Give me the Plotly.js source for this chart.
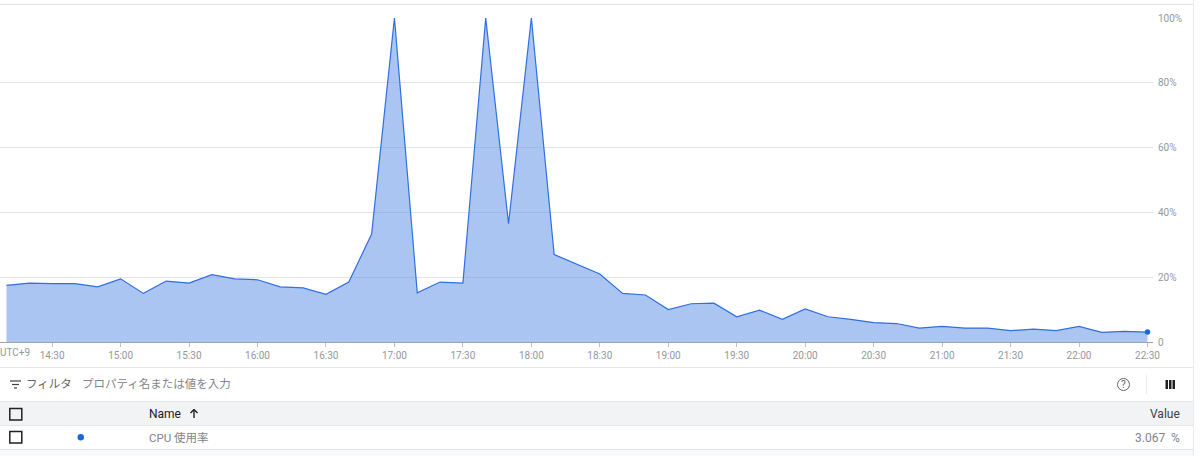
<!DOCTYPE html>
<html>
<head>
<meta charset="utf-8">
<script src="https://cdn.plot.ly/plotly-3.0.1.min.js"></script>
<style>html,body{margin:0;padding:0;background:#fff;overflow:hidden}#c{width:1200px;height:456px}</style>
</head>
<body>
<div id="c"></div>
<script>
const times = ["14:10","14:20","14:30","14:40","14:50","15:00","15:10","15:20","15:30","15:40","15:50","16:00","16:10","16:20","16:30","16:40","16:50","17:00","17:10","17:20","17:30","17:40","17:50","18:00","18:10","18:20","18:30","18:40","18:50","19:00","19:10","19:20","19:30","19:40","19:50","20:00","20:10","20:20","20:30","20:40","20:50","21:00","21:10","21:20","21:30","21:40","21:50","22:00","22:10","22:20","22:30"];
const cpu = [17.5,18.2,18.0,18.0,17.0,19.5,15.0,18.8,18.2,20.8,19.5,19.2,17.0,16.7,14.7,18.5,33.3,100,15.2,18.5,18.2,100,36.5,100,27,24,21,15,14.5,10,11.8,12,7.8,9.8,7,10.2,7.8,7,6,5.7,4.3,4.8,4.3,4.3,3.5,4,3.5,4.8,3,3.3,3.067];
const xTickTimes = ["14:30","15:00","15:30","16:00","16:30","17:00","17:30","18:00","18:30","19:00","19:30","20:00","20:30","21:00","21:30","22:00","22:30"];
const yTickVals = [0,20,40,60,80,100];
const yTickText = ["0","20%","40%","60%","80%","100%"];
const day = "2024-01-01 ";
const FONT = "Roboto, 'Noto Sans CJK JP', sans-serif";
const BLUE = "#1a66e0";
const TICKTEXT = "#94989e";

const traces = [
  {x: times.map(t => day + t), y: cpu, type: "scatter", mode: "lines", fill: "tozeroy",
   fillcolor: "rgba(100,148,232,0.54)", line: {color: "#2f6fe0", width: 1.2}, hoverinfo: "skip"},
  {x: [day + times[times.length-1]], y: [cpu[cpu.length-1]], type: "scatter", mode: "markers",
   marker: {color: BLUE, size: 5.5}, cliponaxis: false, hoverinfo: "skip"}
];

function rc(x0,y0,x1,y1,f,c,w){return {type:"rect",xref:"paper",yref:"paper",x0:x0/1153,x1:x1/1153,y0:1-(y0-18)/324,y1:1-(y1-18)/324,fillcolor:f||"rgba(0,0,0,0)",line:{color:c||"rgba(0,0,0,0)",width:w||0},layer:"below"};}
function lnp(x0,y0,x1,y1,c,w){return {type:"line",xref:"paper",yref:"paper",x0:x0/1153,x1:x1/1153,y0:1-(y0-18)/324,y1:1-(y1-18)/324,line:{color:c,width:w||1},layer:"above"};}
function txt(s,x,y,size,color,anchor){
  const a = anchor||"left";
  const dx = a==="left" ? -2 : (a==="right" ? 2 : 0);
  return {text:s,xref:"paper",yref:"paper",x:(x+dx)/1153,y:1-(y-18)/324,xanchor:a,yanchor:"middle",showarrow:false,font:{family:FONT,size:size,color:color}};
}

const shapes = [
  rc(0,450,1193,456,"#f8f9fa"),
  rc(0,402,1193,425,"#f1f3f4"),
  lnp(0,4.5,1193,4.5,"#dfe1e5"),
  lnp(1193.5,0,1193.5,456,"#e8eaed"),
  lnp(0,367.5,1193,367.5,"#e4e6e9"),
  lnp(0,401.5,1193,401.5,"#e4e6e9"),
  lnp(0,425.5,1193,425.5,"#e4e6e9"),
  lnp(0,449.5,1193,449.5,"#dfe1e5"),
  lnp(1146.5,375,1146.5,394,"#e8eaed"),
  // filter icon
  lnp(10,381,21,381,"#3c4043",1.2), lnp(12,384.5,19,384.5,"#3c4043",1.2), lnp(14,388,17,388,"#3c4043",1.2),
  // sort arrow
  lnp(194,409.5,194,418,"#202124",1.4), lnp(190.5,413,194,409.5,"#202124",1.4), lnp(197.5,413,194,409.5,"#202124",1.4),
  // checkboxes
  Object.assign(rc(9.8,408.5,21.8,420,null,"#202124",1.5),{layer:"above"}),
  Object.assign(rc(9.8,431.5,21.8,443,null,"#202124",1.5),{layer:"above"}),
  // legend dot
  {type:"circle",xref:"paper",yref:"paper",x0:77.5/1153,x1:84/1153,y0:1-(440.5-18)/324,y1:1-(434-18)/324,fillcolor:BLUE,line:{width:0},layer:"above"},
  // help icon
  {type:"circle",xref:"paper",yref:"paper",x0:1117.5/1153,x1:1129.5/1153,y0:1-(390.5-18)/324,y1:1-(378.5-18)/324,fillcolor:"rgba(0,0,0,0)",line:{color:"#5f6368",width:1},layer:"above"},
  // column icon
  Object.assign(rc(1165.5,380,1168,389,"#202124"),{layer:"above"}),
  Object.assign(rc(1169,380,1171.5,389,"#202124"),{layer:"above"}),
  Object.assign(rc(1172.5,380,1175,389,"#202124"),{layer:"above"})
];

const annotations = [
  txt("UTC+9",0,352.5,10,TICKTEXT),
  txt("フィルタ",26,384,11.5,"#5f6368"),
  txt("プロパティ名または値を入力",82,384,11.5,"#80868b"),
  txt("?",1123.5,384.5,10,"#5f6368","center"),
  txt("Name",149,413.5,12,"#202124"),
  txt("Value",1180,413.5,12,"#3c4043","right"),
  txt("CPU 使用率",149,437.5,11.5,"#80868b"),
  txt("3.067",1165,437.5,12,"#80868b","right"),
  txt("%",1180,437.5,12,"#80868b","right")
];

const layout = {
  width: 1200, height: 456, showlegend: false,
  paper_bgcolor: "#fff", plot_bgcolor: "rgba(0,0,0,0)",
  margin: {l: 0, r: 47, t: 18, b: 114, pad: 0},
  font: {family: FONT, size: 10, color: TICKTEXT},
  xaxis: {type: "date", range: ["2024-01-01 14:07:09", "2024-01-01 22:32:25"],
    tickmode: "array", tickvals: xTickTimes.map(t => day + t), ticktext: xTickTimes,
    ticks: "outside", ticklen: 4, tickwidth: 1, tickcolor: "#bdc1c6",
    showgrid: false, showline: true, linecolor: "#a0a4aa", linewidth: 1, zeroline: false,
    tickfont: {size: 10, color: TICKTEXT}, fixedrange: true},
  yaxis: {range: [0, 100], side: "right", tickmode: "array", tickvals: yTickVals, ticktext: yTickText,
    showgrid: true, gridcolor: "#e3e4e7", gridwidth: 1, zeroline: false, showline: false,
    ticks: "outside", ticklen: 2, tickcolor: "rgba(0,0,0,0)", tickfont: {size: 10, color: TICKTEXT}, fixedrange: true},
  shapes, annotations
};
Plotly.newPlot("c", traces, layout, {displayModeBar: false, staticPlot: true});
</script>
</body>
</html>
